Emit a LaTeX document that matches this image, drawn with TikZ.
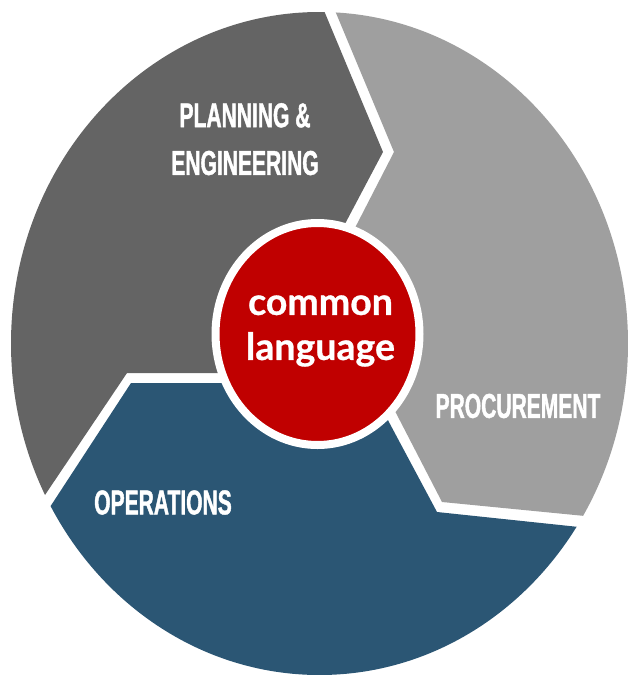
\documentclass[tikz,border=0pt]{standalone}
\usepackage{fontspec}
\usepackage{tikz}
\usetikzlibrary{positioning}
\usepackage{xcolor}

\newfontfamily\segfont[FakeStretch=0.61,FakeBold=1.2]{Liberation Sans}
\newfontfamily\corefont[FakeBold=0.8]{Lato}

\definecolor{planfill}{RGB}{100,100,100}
\definecolor{procfill}{RGB}{159,159,159}
\definecolor{opsfill}{RGB}{43,86,116}
\definecolor{corefill}{RGB}{192,0,0}

\tikzset{
  seglabel/.style={text=white, inner sep=0pt, align=center,
    font=\segfont\bfseries\fontsize{34.5}{47.7}\selectfont},
  corelabel/.style={text=white, inner sep=0pt, align=center,
    font=\corefont\bfseries\fontsize{37.5}{45}\selectfont}
}

\begin{document}
\begin{tikzpicture}[x=1pt,y=-1pt]
\useasboundingbox (0,0) rectangle (628,675);

\begin{scope}
\clip (319.5,343.5) ellipse [x radius=308.5, y radius=331.5];
% planning & engineering
\fill[planfill] (303,-40) -- (325,13) -- (383,152) -- (346,222) -- (335,243) -- (318,334)
  -- (300,373) -- (127,373) -- (45,495) -- (5,555) -- (-40,555) -- (-40,-40) -- cycle;
% procurement
\fill[procfill] (314,-40) -- (336,13) -- (394,152) -- (357,224) -- (346,245) -- (318,334)
  -- (386,394) -- (396,413) -- (442,502) -- (585,516) -- (680,525) -- (680,-40) -- cycle;
% operations
\fill[opsfill] (318,334) -- (305,383) -- (131,383) -- (50,507) -- (10,568) -- (-40,568)
  -- (-40,720) -- (680,720) -- (680,538) -- (579,527) -- (437,512) -- (390,424) -- (380,405) -- cycle;
\end{scope}

\draw[white, line width=8pt, fill=corefill] (317.5,334) ellipse [x radius=102, y radius=111];

\node[seglabel] (plan) at (245,139.2) {PLANNING \&\\ENGINEERING};
\node[seglabel] (proc) at (518,406) {PROCUREMENT};
\node[seglabel] (ops) at (163,502.5) {OPERATIONS};
\node[corelabel] (core) at (320.5,331) {common\\language};
\end{tikzpicture}
\end{document}
